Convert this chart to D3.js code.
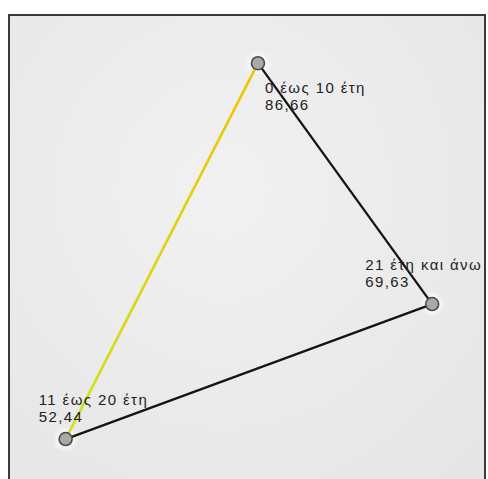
<!DOCTYPE html>
<html>
<head>
<meta charset="utf-8">
<script src="https://cdn.jsdelivr.net/npm/d3@7/dist/d3.min.js"></script>
<style>
  html, body { margin: 0; padding: 0; background: #fff; }
  svg { display: block; }
  .node-label { font-family: 'Liberation Sans', Arial, sans-serif; font-size: 15px; letter-spacing: 1.4px; fill: #222; }
</style>
</head>
<body>
<svg id="chart" width="488" height="479"></svg>
<script>
// groups and their scores
var groups = ['0 έως 10 έτη', '21 έτη και άνω', '11 έως 20 έτη'];
var scores = [86.66, 69.63, 52.44];

// node layout in graph units (0 - 100)
var layoutX = [52.3, 88.9, 11.9];
var layoutY = [10.1, 60.6, 88.9];

// links between nodes (source, target) and link kind
var linkSource = [0, 1, 2];
var linkTarget = [1, 2, 0];
var linkKind = ['plain', 'plain', 'highlight'];

const frame = { left: 9, top: 15, right: 485, bottom: 492 };
const nodeRadius = 6.5;
const lineHeight = 17;
// where each label sits relative to its node (first baseline)
const labelOffset = [[7, 30], [-67, -34], [-27, -34]];

var svg = d3.select('#chart');

var defs = svg.append('defs');

var glow = defs.append('filter').attr('id', 'glow').attr('x', '-30%').attr('y', '-30%').attr('width', '160%').attr('height', '160%');
glow.append('feGaussianBlur').attr('stdDeviation', 2.2);

var bg = defs.append('radialGradient').attr('id', 'bg').attr('cx', '45%').attr('cy', '35%').attr('r', '75%');
bg.append('stop').attr('offset', '0%').attr('stop-color', '#f1f1f1');
bg.append('stop').attr('offset', '100%').attr('stop-color', '#e6e6e6');

var x = d3.scaleLinear().domain([0, 100]).range([frame.left, frame.right]);
var y = d3.scaleLinear().domain([0, 100]).range([frame.top, frame.bottom]);

var fmt = d3.formatLocale({ decimal: ',', thousands: '.', grouping: [3], currency: ['', '€'] }).format('.2f');

var nodes = groups.map(function (name, i) {
  return { name: name, score: scores[i], x: x(layoutX[i]), y: y(layoutY[i]), i: i };
});
var links = linkSource.map(function (s, i) {
  return { source: nodes[s], target: nodes[linkTarget[i]], kind: linkKind[i] };
});

svg.append('rect')
  .attr('x', frame.left)
  .attr('y', frame.top)
  .attr('width', frame.right - frame.left)
  .attr('height', frame.bottom - frame.top + 20)
  .attr('fill', 'url(#bg)')
  .attr('stroke', '#3a3a3a')
  .attr('stroke-width', 2);

// yellow link fades from gold to lime along its length
links.forEach(function (l, i) {
  if (l.kind !== 'highlight') return;
  var g = defs.append('linearGradient').attr('id', 'hl' + i).attr('gradientUnits', 'userSpaceOnUse')
    .attr('x1', l.source.x).attr('y1', l.source.y).attr('x2', l.target.x).attr('y2', l.target.y);
  g.append('stop').attr('offset', '0%').attr('stop-color', '#cfe21c');
  g.append('stop').attr('offset', '100%').attr('stop-color', '#f2c200');
  l.grad = 'url(#hl' + i + ')';
});

// soft white halos behind nodes
svg.append('g')
  .selectAll('circle')
  .data(nodes)
  .enter()
  .append('circle')
  .attr('cx', function (d) { return d.x; })
  .attr('cy', function (d) { return d.y; })
  .attr('r', nodeRadius + 4)
  .attr('fill', '#fff')
  .attr('opacity', 0.7)
  .attr('filter', 'url(#glow)');

svg.append('g')
  .selectAll('line')
  .data(links)
  .enter()
  .append('line')
  .attr('x1', function (d) { return d.source.x; })
  .attr('y1', function (d) { return d.source.y; })
  .attr('x2', function (d) { return d.target.x; })
  .attr('y2', function (d) { return d.target.y; })
  .attr('stroke', function (d) { return d.kind === 'highlight' ? d.grad : '#141414'; })
  .attr('stroke-width', function (d) { return d.kind === 'highlight' ? 2.6 : 2.3; });

var labels = svg.append('g')
  .selectAll('text')
  .data(nodes)
  .enter()
  .append('text')
  .attr('class', 'node-label')
  .attr('x', function (d) { return d.x + labelOffset[d.i][0]; })
  .attr('y', function (d) { return d.y + labelOffset[d.i][1]; });

labels.append('tspan').text(function (d) { return d.name; });
labels.append('tspan')
  .attr('x', function (d) { return d.x + labelOffset[d.i][0]; })
  .attr('dy', lineHeight)
  .text(function (d) { return fmt(d.score); });

svg.append('g')
  .selectAll('circle')
  .data(nodes)
  .enter()
  .append('circle')
  .attr('cx', function (d) { return d.x; })
  .attr('cy', function (d) { return d.y; })
  .attr('r', nodeRadius)
  .attr('fill', '#a7aba7')
  .attr('stroke', '#4a4a4a')
  .attr('stroke-width', 1.6);
</script>
</body>
</html>
